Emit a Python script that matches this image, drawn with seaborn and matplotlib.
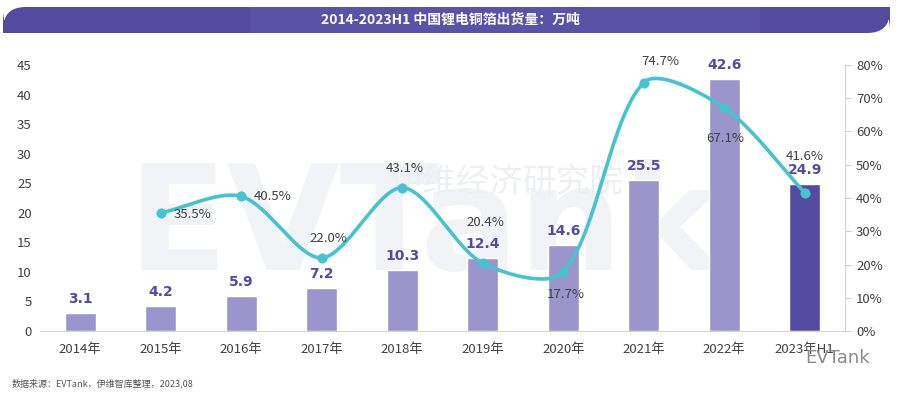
import numpy as np
import pandas as pd
import matplotlib
matplotlib.use("Agg")
import matplotlib.pyplot as plt
import seaborn as sns
from matplotlib.patches import FancyBboxPatch, Rectangle

years = ["2014年", "2015年", "2016年", "2017年", "2018年", "2019年",
         "2020年", "2021年", "2022年", "2023年H1"]
shipments = [3.1, 4.2, 5.9, 7.2, 10.3, 12.4, 14.6, 25.5, 42.6, 24.9]
growth = [np.nan, 35.5, 40.5, 22.0, 43.1, 20.4, 17.7, 74.7, 67.1, 41.6]
left_ticks = [0, 5, 10, 15, 20, 25, 30, 35, 40, 45]
right_ticks = [0, 10, 20, 30, 40, 50, 60, 70, 80]

title = "2014-2023H1 中国锂电铜箔出货量：万吨"
source = "数据来源：EVTank，伊维智库整理，2023,08"

PURPLE = "#9b95cb"
DARK = "#544ba1"
CYAN = "#45c3cf"
TXT = "#404040"

# where the growth labels sit relative to each point (offset points, ha)
pct_offsets = [None, (9, -1, "left"), (9, 0, "left"), (5, 14, "center"),
               (2, 14, "center"), (2, 29, "center"), (2, -16, "center"),
               (12, 15, "center"), (1, -22, "center"), (0, 26, "center")]


def smooth_path(pts, smooth=0.3, n=40):
    """Bezier smoothing in pixel space, control points weighted by segment length."""
    m = len(pts)
    cps = []
    for i in range(m):
        p = pts[i]
        prev = pts[i - 1] if i > 0 else p
        nxt = pts[i + 1] if i < m - 1 else p
        v = (nxt - prev) * smooth
        d0 = np.hypot(*(p - prev))
        d1 = np.hypot(*(p - nxt))
        s = d0 + d1
        if s:
            d0, d1 = d0 / s, d1 / s
        cps.append((p - v * d0, p + v * d1))
    t = np.linspace(0, 1, n)[:, None]
    out = []
    for i in range(m - 1):
        a, b, c, d = pts[i], cps[i][1], cps[i + 1][0], pts[i + 1]
        out.append((1 - t) ** 3 * a + 3 * (1 - t) ** 2 * t * b
                   + 3 * (1 - t) * t ** 2 * c + t ** 3 * d)
    return np.vstack(out)


sns.set_style("white")
plt.rcParams["font.family"] = ["Noto Sans CJK SC", "DejaVu Sans"]

df = pd.DataFrame({"year": years, "shipments": shipments, "growth": growth})

fig = plt.figure(figsize=(9.03, 3.96), dpi=100)
ax = fig.add_axes([40 / 903, 1 - 331 / 396, 805 / 903, 266 / 396])

# faint watermark behind everything
fig.text(0.47, 0.42, "EVTank", fontsize=105, fontweight="bold", color="#f2f3f7",
         ha="center", va="center", zorder=-5, family="DejaVu Sans")
fig.text(0.56, 0.54, "伊维经济研究院", fontsize=24, color="#eeeff3",
         ha="center", va="center", zorder=-4)

colors = [PURPLE] * (len(years) - 1) + [DARK]
sns.barplot(data=df, x="year", y="shipments", hue="year", palette=colors,
            legend=False, width=0.385, ax=ax, zorder=2, saturation=1)
for c in ax.containers:
    ax.bar_label(c, fmt="%.1f", padding=5, color=DARK, fontsize=10,
                 fontweight="bold", family="DejaVu Sans")

ax.set_xlim(-0.5, len(years) - 0.5)
ax.set_ylim(0, 45)
ax.set_yticks(left_ticks)
ax.set_xlabel("")
ax.set_ylabel("")
ax.tick_params(axis="y", length=0, labelsize=9.5, labelcolor=TXT, pad=6)
ax.tick_params(axis="x", length=0, labelsize=9.5, labelcolor=TXT, pad=9)
for s in ["left", "right", "top"]:
    ax.spines[s].set_visible(False)
ax.spines["bottom"].set_color("#d4d4d4")
ax.patch.set_alpha(0)

ax2 = ax.twinx()
ax2.set_ylim(0, 80)
ax2.set_xlim(-0.5, len(years) - 0.5)
idx = np.array([i for i, g in enumerate(growth) if not np.isnan(g)], dtype=float)
vals = np.array([g for g in growth if not np.isnan(g)])
pix = ax2.transData.transform(np.column_stack([idx, vals]))
curve = ax2.transData.inverted().transform(smooth_path(pix))
ax2.plot(curve[:, 0], curve[:, 1], color=CYAN, lw=2.6, zorder=3,
         solid_capstyle="round")
sns.scatterplot(x=idx, y=vals, color=CYAN, s=45, edgecolor=CYAN, ax=ax2, zorder=4)
for i, g in enumerate(growth):
    if pct_offsets[i] is None:
        continue
    dx, dy, ha = pct_offsets[i]
    ax2.annotate(f"{g:.1f}%", (i, g), xytext=(dx, dy), textcoords="offset points",
                 ha=ha, va="center", fontsize=9.5, color=TXT, zorder=5)
ax2.set_yticks(right_ticks)
ax2.set_yticklabels([f"{t}%" for t in right_ticks])
ax2.tick_params(axis="y", length=4, color="#cfcfcf", labelsize=9.5,
                labelcolor=TXT, pad=4)
for s in ["left", "top", "bottom"]:
    ax2.spines[s].set_visible(False)
ax2.spines["right"].set_color("#d4d4d4")

# title bar
bx, by, bw, bh = 3 / 903, 1 - 33 / 396, 887 / 903, 26 / 396
fig.patches.append(FancyBboxPatch((bx, by), bw, bh, boxstyle="round,pad=0,rounding_size=0.025",
                                  transform=fig.transFigure, fc=DARK, ec="none",
                                  mutation_aspect=903 / 396))
fig.patches.append(Rectangle((bx, by), 0.05, bh / 2, transform=fig.transFigure,
                             fc=DARK, ec="none"))
fig.patches.append(Rectangle((bx + bw - 0.05, by + bh / 2), 0.05, bh / 2,
                             transform=fig.transFigure, fc=DARK, ec="none"))
fig.patches.append(Rectangle((250 / 903, by), 510 / 903, bh, transform=fig.transFigure,
                             fc="#5a52a6", ec="none"))
fig.text(450 / 903, 1 - 20 / 396, title, color="white", fontsize=10,
         fontweight="bold", ha="center", va="center")

fig.text(12 / 903, 1 - 383 / 396, source, fontsize=6.5, color="#555555",
         ha="left", va="center")
fig.text(838 / 903, 1 - 358 / 396, "EVTank", fontsize=13, color="#8a8a8a",
         ha="center", va="center", family="DejaVu Sans")

fig.savefig("out.png", dpi=100)
